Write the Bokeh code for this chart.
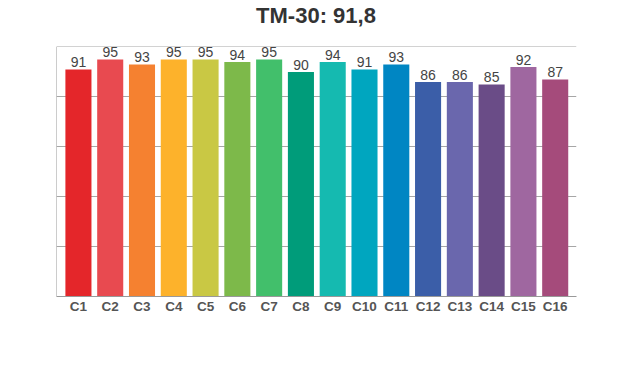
from bokeh.plotting import figure
from bokeh.models import ColumnDataSource, FixedTicker, Range1d, Span, Div
from bokeh.layouts import column
from bokeh.core.properties import value
from bokeh.embed import file_html
from bokeh.resources import INLINE

categories = ["C1", "C2", "C3", "C4", "C5", "C6", "C7", "C8",
              "C9", "C10", "C11", "C12", "C13", "C14", "C15", "C16"]
values = [91, 95, 93, 95, 95, 94, 95, 90, 94, 91, 93, 86, 86, 85, 92, 87]
colors = ["#E4262A", "#E84A50", "#F58130", "#FDB22B", "#C9C844", "#7DB94A",
          "#42BF6B", "#009C7A", "#15BAB0", "#00A6BF", "#0086C3", "#3B5EA8",
          "#6A67AD", "#6A4C87", "#9F67A0", "#A54B7B"]
grid_ticks = [20, 40, 60, 80, 100]
title_text = "TM-30: 91,8"

xs = list(range(1, len(categories) + 1))
src = ColumnDataSource(dict(x=xs, top=values, color=colors,
                            label=[str(v) for v in values]))

title_div = Div(text=title_text, width=612, height=31, margin=(0, 0, 0, 0),
                styles={"text-align": "center", "text-indent": "20px",
                        "font-family": "Liberation Sans", "font-size": "22px",
                        "font-weight": "bold", "color": "#333333",
                        "line-height": "31px"})

x_start, x_end = 0.31, 16.67
p = figure(width=612, height=331, output_backend="svg", toolbar_location=None,
           x_range=Range1d(x_start, x_end), y_range=Range1d(0, 100.2),
           min_border_left=56, min_border_right=36, min_border_top=15,
           min_border_bottom=66)
p.outline_line_color = None
p.background_fill_color = "white"
p.margin = (0, 0, 0, 0)

p.vbar(x="x", top="top", width=0.82, color="color", line_color=None, source=src)
p.text(x="x", y="top", text="label", source=src, text_align="center",
       text_baseline="bottom", y_offset=-2, text_font_size="14px",
       text_color="#444444", text_font=value("Liberation Sans"))

p.xgrid.grid_line_color = None
p.ygrid.ticker = FixedTicker(ticks=grid_ticks)
p.ygrid.grid_line_color = "#A6A6A6"
p.ygrid.grid_line_width = 1

p.xaxis.ticker = FixedTicker(ticks=xs)
p.xaxis.major_label_overrides = {x: c for x, c in zip(xs, categories)}
p.xaxis.axis_line_color = "#999999"
p.xaxis.major_tick_line_color = None
p.xaxis.minor_tick_line_color = None
p.xaxis.major_tick_out = 0
p.xaxis.major_tick_in = 0
p.xaxis.major_label_standoff = 2
p.xaxis.major_label_text_font = "Liberation Sans"
p.xaxis.major_label_text_font_size = "13.5px"
p.xaxis.major_label_text_font_style = "bold"
p.xaxis.major_label_text_color = "#555555"

p.yaxis.visible = False
p.add_layout(Span(location=x_start, dimension="height",
                  line_color="#999999", line_width=1))

layout = column(title_div, p, spacing=0)
open("out.html", "w").write(file_html(layout, INLINE))
